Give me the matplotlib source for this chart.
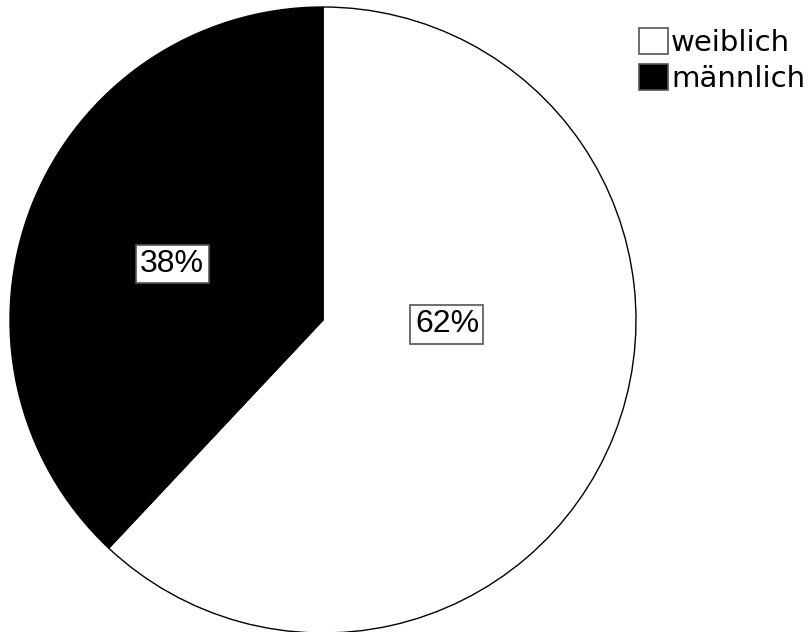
import matplotlib
matplotlib.use("Agg")
import matplotlib.pyplot as plt
import matplotlib.patches as mpatches

categories = ["weiblich", "männlich"]
values = [62, 38]
colors = ["white", "black"]
pct_labels = ["62%", "38%"]

W, H = 808, 632
fig = plt.figure(figsize=(W / 100, H / 100), dpi=100)
cx, cy, r = 323, 320, 313
ax = fig.add_axes([(cx - r) / W, (H - cy - r) / H, 2 * r / W, 2 * r / H])

wedges, _ = ax.pie(values, colors=colors, startangle=90, counterclock=False,
                   radius=1, wedgeprops=dict(edgecolor="black", linewidth=1.0))
ax.set_xlim(-1, 1)
ax.set_ylim(-1, 1)
ax.axis("off")

label_pos = [(0.396, -0.013), (-0.482, 0.179)]
for txt, (x, y) in zip(pct_labels, label_pos):
    ax.text(x, y, txt, ha="center", va="center", fontsize=23, family="Liberation Sans",
            bbox=dict(boxstyle="square,pad=0.14", facecolor="white", edgecolor="#555555", linewidth=1.2))

handles = [mpatches.Patch(facecolor=c, edgecolor="#555555", linewidth=1.2) for c in colors]
fig.legend(handles, categories, loc="upper left", bbox_to_anchor=(639 / W, 1 - 28 / H),
           frameon=False, fontsize=21, handlelength=1.0, handleheight=1.0,
           handletextpad=0.1, labelspacing=0.25, borderpad=0, borderaxespad=0)

fig.savefig("out.png", dpi=100)
